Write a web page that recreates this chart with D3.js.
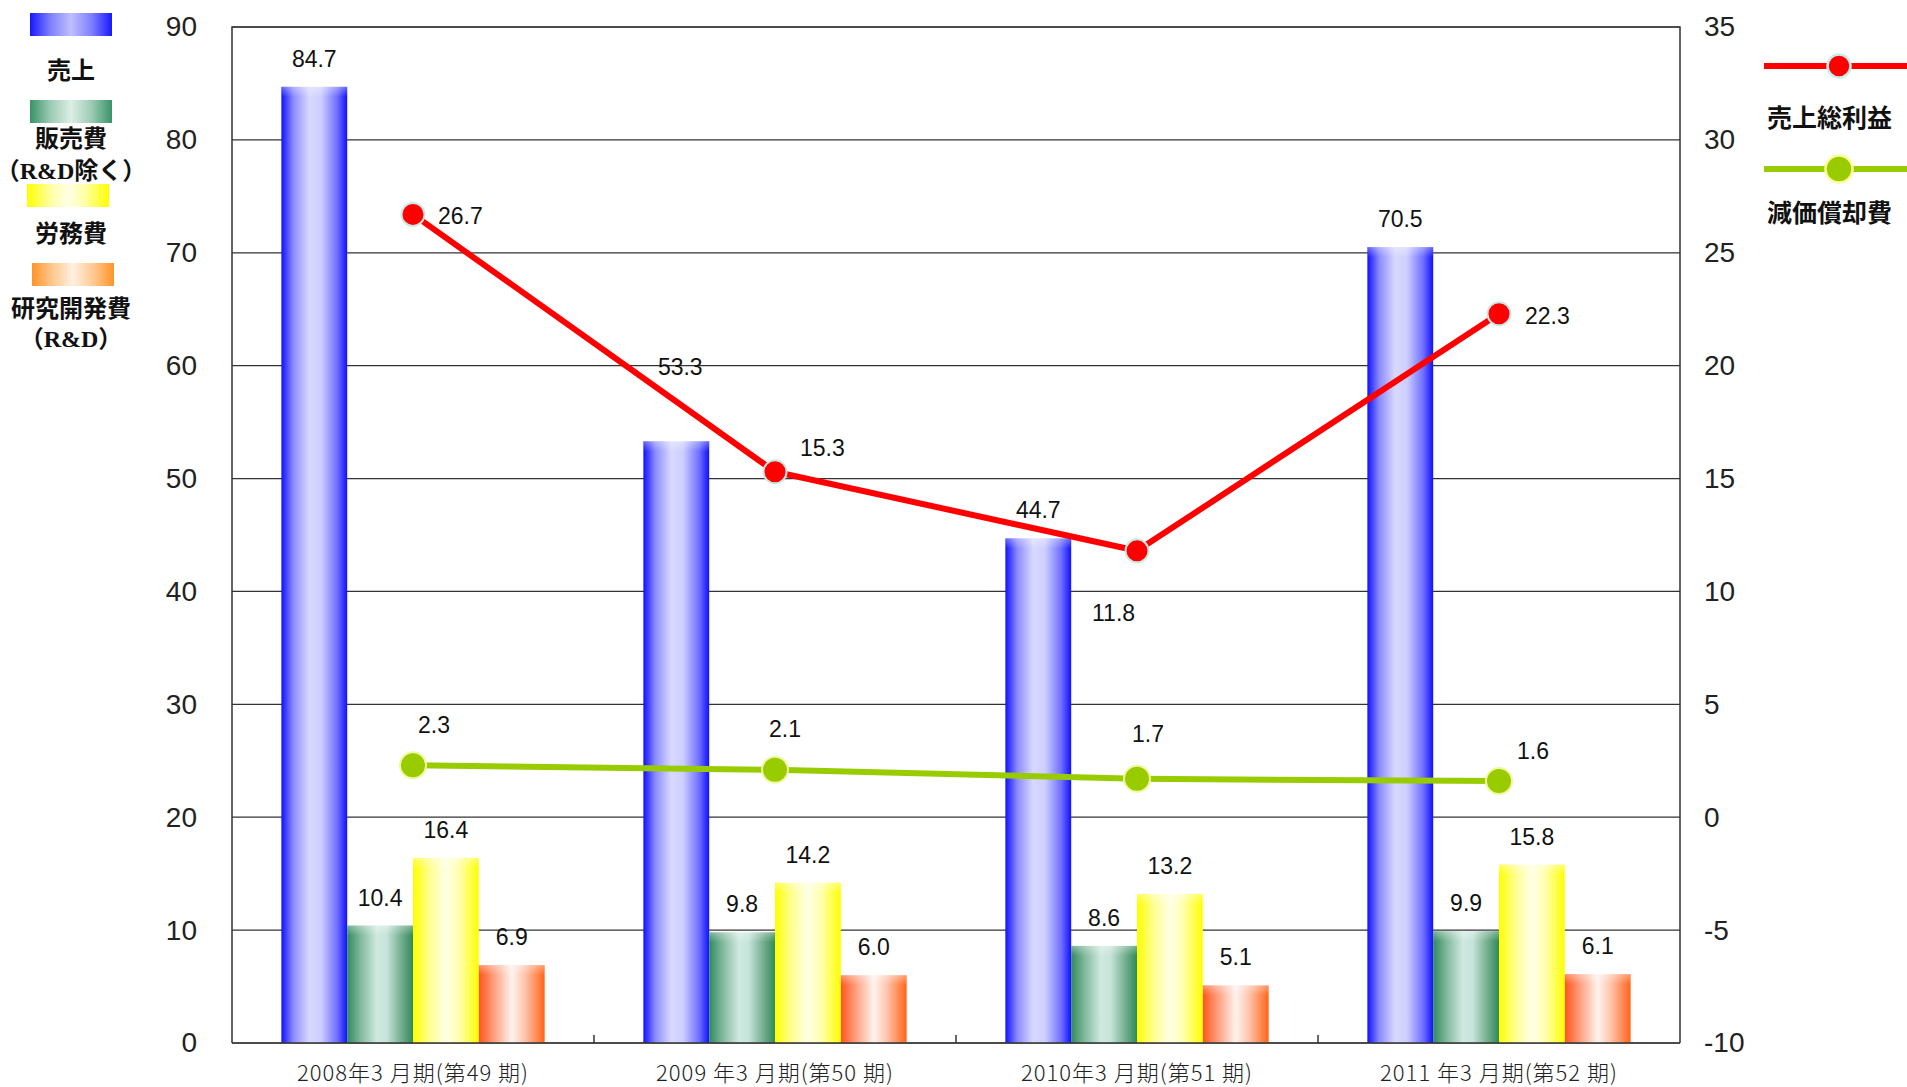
<!DOCTYPE html>
<html lang="ja">
<head>
<meta charset="utf-8">
<script src="https://cdn.jsdelivr.net/npm/d3@7"></script>
<style>
  html, body { margin: 0; padding: 0; background: #fff; }
  svg { display: block; }
</style>
</head>
<body>
<svg id="chart" width="1907" height="1087"></svg>
<script>
// ---- data ----
const categories = ["2008年3 月期(第49 期)", "2009 年3 月期(第50 期)", "2010年3 月期(第51 期)", "2011 年3 月期(第52 期)"];
const barSeries = ["売上", "販売費", "労務費", "研究開発費"];
const sales = [84.7, 53.3, 44.7, 70.5];
const sellingCost = [10.4, 9.8, 8.6, 9.9];
const laborCost = [16.4, 14.2, 13.2, 15.8];
const rdCost = [6.9, 6.0, 5.1, 6.1];
const grossProfit = [26.7, 15.3, 11.8, 22.3];
const depreciation = [2.3, 2.1, 1.7, 1.6];
const leftTicks = [0, 10, 20, 30, 40, 50, 60, 70, 80, 90];
const rightTicks = [-10, -5, 0, 5, 10, 15, 20, 25, 30, 35];

// ---- layout ----
const svg = d3.select("#chart");
const plot = { left: 232, right: 1680, top: 27, bottom: 1043 };
const numFont = "'Liberation Sans', Arial, sans-serif";
const jpFont = "'Noto Sans CJK JP', 'Noto Sans', sans-serif";

const x = d3.scaleBand().domain(categories).range([plot.left, plot.right]).padding(0);
const xInner = d3.scaleBand().domain(barSeries).range([0, x.bandwidth()])
  .paddingInner(0).paddingOuter(0.75);
const yLeft = d3.scaleLinear().domain([0, 90]).range([plot.bottom, plot.top]);
const yRight = d3.scaleLinear().domain([-10, 35]).range([plot.bottom, plot.top]);

// ---- gradients for cylinder-like bars ----
const defs = svg.append("defs");
function hGrad(id, stops) {
  const g = defs.append("linearGradient").attr("id", id)
    .attr("x1", "0%").attr("x2", "100%").attr("y1", "0%").attr("y2", "0%");
  stops.forEach(([o, c]) => g.append("stop").attr("offset", o).attr("stop-color", c));
}
hGrad("gBlue", [[0, "#1010ff"], [0.18, "#8a8aff"], [0.42, "#d8d8ff"], [0.6, "#cfcfff"], [0.85, "#6e6eff"], [1, "#1010ff"]]);
hGrad("gGreen", [[0, "#2f8a5c"], [0.2, "#7fb89c"], [0.45, "#cfe9e0"], [0.6, "#c6e4da"], [0.85, "#69a886"], [1, "#2f8a5c"]]);
hGrad("gYellow", [[0, "#ffff00"], [0.25, "#ffff90"], [0.5, "#ffffe6"], [0.7, "#ffffb0"], [1, "#ffff00"]]);
hGrad("gOrange", [[0, "#ff551a"], [0.22, "#ff9c7c"], [0.5, "#fff3ee"], [0.7, "#ffc4ac"], [1, "#ff6418"]]);
hGrad("gOrangeKey", [[0, "#ff9428"], [0.25, "#ffc890"], [0.5, "#fff0e0"], [0.75, "#ffc890"], [1, "#ff9428"]]);
hGrad("gBlueKey", [[0, "#1818ff"], [0.25, "#8080ff"], [0.5, "#bebeff"], [0.75, "#8080ff"], [1, "#1818ff"]]);
hGrad("gGreenKey", [[0, "#3a9368"], [0.25, "#9ccbb5"], [0.5, "#dcefe6"], [0.75, "#9ccbb5"], [1, "#3a9368"]]);
hGrad("gYellowKey", [[0, "#ffff00"], [0.3, "#ffffa8"], [0.5, "#ffffe8"], [0.7, "#ffffa8"], [1, "#ffff00"]]);
// soft top shading to suggest a rounded top
const topShade = defs.append("linearGradient").attr("id", "gTop")
  .attr("x1", "0%").attr("x2", "0%").attr("y1", "0%").attr("y2", "100%");
topShade.append("stop").attr("offset", 0).attr("stop-color", "#fff").attr("stop-opacity", 0.35);
topShade.append("stop").attr("offset", 1).attr("stop-color", "#fff").attr("stop-opacity", 0);

// ---- gridlines ----
svg.append("g").selectAll("line").data(leftTicks).join("line")
  .attr("x1", plot.left).attr("x2", plot.right)
  .attr("y1", d => yLeft(d)).attr("y2", d => yLeft(d))
  .attr("stroke", "#333").attr("stroke-width", 1.2);

// ---- frame ----
svg.append("path")
  .attr("d", `M${plot.left},${plot.bottom}V${plot.top}H${plot.right}V${plot.bottom}`)
  .attr("fill", "none").attr("stroke", "#333").attr("stroke-width", 1.5);

// ---- left axis ----
const plainInt = d => String(d);
const leftAxis = svg.append("g").attr("transform", `translate(${plot.left},0)`)
  .call(d3.axisLeft(yLeft).tickValues(leftTicks).tickSize(0).tickPadding(35).tickFormat(plainInt));
leftAxis.select(".domain").remove();
leftAxis.selectAll("text").attr("font-family", numFont).attr("font-size", 28).attr("fill", "#222");

// ---- right axis ----
const rightAxis = svg.append("g").attr("transform", `translate(${plot.right},0)`)
  .call(d3.axisRight(yRight).tickValues(rightTicks).tickSize(0).tickPadding(24).tickFormat(plainInt));
rightAxis.select(".domain").remove();
rightAxis.selectAll("text").attr("font-family", numFont).attr("font-size", 28).attr("fill", "#222");

// ---- bars ----
const barSets = [
  { key: "売上", values: sales, fill: "url(#gBlue)" },
  { key: "販売費", values: sellingCost, fill: "url(#gGreen)" },
  { key: "労務費", values: laborCost, fill: "url(#gYellow)" },
  { key: "研究開発費", values: rdCost, fill: "url(#gOrange)" }
];
const barRows = [];
barSets.forEach(s => s.values.forEach((v, i) => barRows.push({ cat: categories[i], key: s.key, v, fill: s.fill, i })));

const barG = svg.append("g");
barG.selectAll("rect.bar").data(barRows).join("rect").attr("class", "bar")
  .attr("x", d => x(d.cat) + xInner(d.key))
  .attr("y", d => yLeft(d.v))
  .attr("width", xInner.bandwidth())
  .attr("height", d => yLeft(0) - yLeft(d.v))
  .attr("fill", d => d.fill);
barG.selectAll("rect.shade").data(barRows).join("rect").attr("class", "shade")
  .attr("x", d => x(d.cat) + xInner(d.key))
  .attr("y", d => yLeft(d.v))
  .attr("width", xInner.bandwidth())
  .attr("height", 10)
  .attr("fill", "url(#gTop)");

// the 2009 sales label is lifted clear of the profit line
const barLabelLift = (d) => (d.key === "売上" && d.i === 1) ? 46 : 0;
barG.selectAll("text").data(barRows).join("text")
  .attr("x", d => x(d.cat) + xInner(d.key) + xInner.bandwidth() / 2 + (barLabelLift(d) ? 4 : 0))
  .attr("y", d => yLeft(d.v) - 20 - barLabelLift(d))
  .attr("text-anchor", "middle")
  .attr("font-family", numFont).attr("font-size", 23).attr("fill", "#111")
  .text(d => d.v.toFixed(1));

// ---- bottom axis ticks + category labels ----
svg.append("line").attr("x1", plot.left).attr("x2", plot.right)
  .attr("y1", plot.bottom).attr("y2", plot.bottom).attr("stroke", "#333").attr("stroke-width", 1.5);
svg.append("g").selectAll("line").data(categories.slice(1)).join("line")
  .attr("x1", d => x(d)).attr("x2", d => x(d))
  .attr("y1", plot.bottom).attr("y2", plot.bottom - 8)
  .attr("stroke", "#333").attr("stroke-width", 1.5);
svg.append("g").selectAll("text").data(categories).join("text")
  .attr("x", d => x(d) + x.bandwidth() / 2)
  .attr("y", 1081)
  .attr("text-anchor", "middle")
  .attr("font-family", jpFont).attr("font-size", 22).attr("font-weight", 300)
  .attr("letter-spacing", 1).attr("fill", "#222")
  .text(d => d);

// ---- lines (right axis) ----
const cx = (i) => x(categories[i]) + x.bandwidth() / 2;
const line = d3.line().x((d, i) => cx(i)).y(d => yRight(d));

function drawSeries(values, color, markerR, markerStroke, labelOffsets) {
  const g = svg.append("g");
  g.append("path").datum(values).attr("d", line)
    .attr("fill", "none").attr("stroke", color).attr("stroke-width", 6)
    .attr("stroke-linejoin", "round");
  g.selectAll("circle").data(values).join("circle")
    .attr("cx", (d, i) => cx(i)).attr("cy", d => yRight(d)).attr("r", markerR)
    .attr("fill", color).attr("stroke", markerStroke).attr("stroke-width", 2);
  g.selectAll("text").data(values).join("text")
    .attr("x", (d, i) => cx(i) + labelOffsets[i][0])
    .attr("y", (d, i) => yRight(d) + labelOffsets[i][1])
    .attr("font-family", numFont).attr("font-size", 23).attr("fill", "#111")
    .text(d => d.toFixed(1));
}
drawSeries(grossProfit, "#ff0000", 11.5, "#c9e8e4", [[25, 10], [25, -16], [-45, 70], [26, 10]]);
drawSeries(depreciation, "#99cc00", 13, "#f0f8a0", [[5, -32], [-6, -33], [-5, -37], [18, -22]]);

// ---- left legend (bars) ----
const keyG = svg.append("g");
const keyBoxes = [
  { fill: "url(#gBlueKey)", x: 30, y: 13 },
  { fill: "url(#gGreenKey)", x: 30, y: 100 },
  { fill: "url(#gYellowKey)", x: 27, y: 184 },
  { fill: "url(#gOrangeKey)", x: 32, y: 263 }
];
keyG.selectAll("rect").data(keyBoxes).join("rect")
  .attr("x", d => d.x).attr("y", d => d.y).attr("width", 82).attr("height", 23)
  .attr("fill", d => d.fill);

const keyText = [
  { parts: [["売上", jpFont]], y: 79 },
  { parts: [["販売費", jpFont]], y: 147 },
  { parts: [["（", jpFont], ["R&D", "'Liberation Serif', serif"], ["除く）", jpFont]], y: 179 },
  { parts: [["労務費", jpFont]], y: 242 },
  { parts: [["研究開発費", jpFont]], y: 317 },
  { parts: [["（", jpFont], ["R&D", "'Liberation Serif', serif"], ["）", jpFont]], y: 347 }
];
keyText.forEach(k => {
  const t = keyG.append("text").attr("x", 71).attr("y", k.y).attr("text-anchor", "middle")
    .attr("font-size", 24).attr("font-weight", "bold").attr("fill", "#111");
  k.parts.forEach(([s, f]) => t.append("tspan").attr("font-family", f).text(s));
});

// ---- right legend (lines) ----
const lineKeys = [
  { label: "売上総利益", color: "#ff0000", r: 11.5, stroke: "#c9ecec", y: 66, ty: 127 },
  { label: "減価償却費", color: "#99cc00", r: 13.5, stroke: "#ffff99", y: 169, ty: 222 }
];
const lk = svg.append("g");
lineKeys.forEach(k => {
  lk.append("line").attr("x1", 1764).attr("x2", 1907).attr("y1", k.y).attr("y2", k.y)
    .attr("stroke", k.color).attr("stroke-width", 6);
  lk.append("circle").attr("cx", 1839).attr("cy", k.y).attr("r", k.r)
    .attr("fill", k.color).attr("stroke", k.stroke).attr("stroke-width", 2.5);
  lk.append("text").attr("x", 1767).attr("y", k.ty)
    .attr("font-family", jpFont).attr("font-size", 25).attr("font-weight", "bold")
    .attr("fill", "#111").text(k.label);
});
</script>
</body>
</html>
